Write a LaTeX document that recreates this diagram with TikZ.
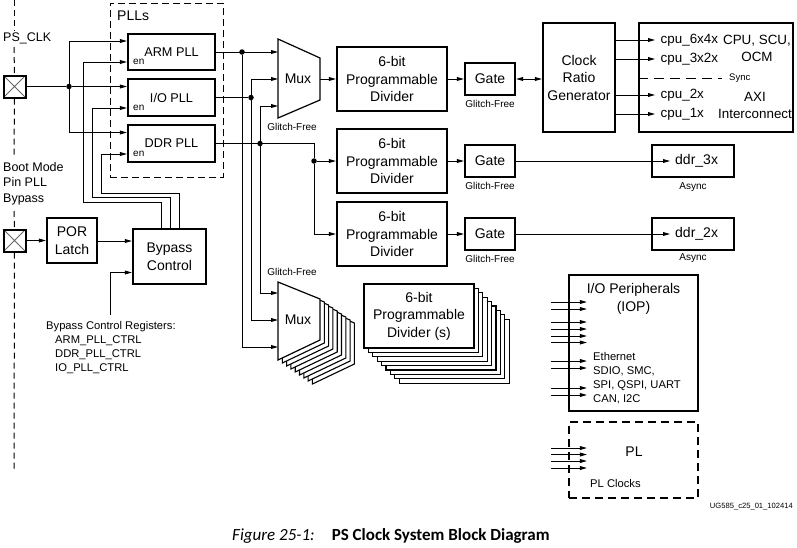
\documentclass[tikz,border=0pt]{standalone}
\usepackage{fontspec}
\setmainfont{Liberation Sans}
\newfontfamily\capfont{Carlito}
\usetikzlibrary{arrows.meta}
\newcommand\fsBig{\fontsize{14}{17.5}\selectfont}
\newcommand\fsPLL{\fontsize{12.7}{15}\selectfont}
\newcommand\fsMid{\fontsize{12.5}{15.5}\selectfont}
\newcommand\fsCpu{\fontsize{13.4}{16.5}\selectfont}
\newcommand\fsReg{\fontsize{11.2}{14}\selectfont}
\newcommand\fsEn{\fontsize{10}{12}\selectfont}
\newcommand\fsGF{\fontsize{10}{12}\selectfont}
\newcommand\fsSync{\fontsize{9.5}{11}\selectfont}
\newcommand\fsUG{\fontsize{7.6}{9}\selectfont}
\begin{document}
\begin{tikzpicture}[x=1pt,y=-1pt,
  box/.style={draw, line width=2.2pt, inner sep=0pt, align=center, font=\fsBig},
  txt/.style={inner sep=0pt, align=center},
  conn/.style={line width=0.9pt},
  arr/.style={conn, -{Triangle[length=7pt,width=3.8pt]}},
  arr2/.style={conn, {Triangle[length=7pt,width=3.8pt]}-{Triangle[length=7pt,width=3.8pt]}},
  dot/.style={circle, fill, inner sep=0pt, minimum size=5.5pt},
  pad/.style={draw, line width=2pt, minimum size=22pt, inner sep=0pt,
    path picture={\draw[line width=0.8pt, black!60]
      (path picture bounding box.north west) -- (path picture bounding box.south east)
      (path picture bounding box.north east) -- (path picture bounding box.south west);}},
  ldash/.style={line width=1pt, dash pattern=on 6pt off 4pt},
  gf/.style={txt, font=\fsGF},
  muxline/.style={line width=1.2pt, fill=white},
  stackline/.style={line width=1.1pt, fill=white}
]
\useasboundingbox (0,0) rectangle (797,547);

% ---------- left pads and texts
\node[pad] (pad1) at (14.5,86.5) {};
\node[pad] (pad2) at (14.5,240.5) {};
\node[txt, anchor=west, font=\fsMid] (psclk) at (3,38) {PS\_CLK};
\node[txt, anchor=west, align=left, font=\fsMid] (boot) at (3,183.5) {Boot Mode\\Pin PLL\\Bypass};
\draw[ldash] (14,0) -- (14,31);
\draw[ldash] (14,47) -- (pad1.north);
\draw[ldash] (pad1.south) -- (14,157);
\draw[ldash] (14,211) -- (pad2.north);
\draw[ldash] (pad2.south) -- (14,470);

% ---------- PLL group
\node[draw, line width=1pt, dash pattern=on 7pt off 4pt, minimum width=113pt, minimum height=174pt, inner sep=0pt] (pllgrp) at (166.5,90) {};
\node[txt, anchor=west, font=\fsBig] (plls) at (117,16) {PLLs};
\node[box, font=\fsPLL, minimum width=87pt, minimum height=36pt] (arm) at (171.5,52) {ARM PLL};
\node[box, font=\fsPLL, minimum width=87pt, minimum height=37pt] (iop) at (171.5,97.5) {I/O PLL};
\node[box, font=\fsPLL, minimum width=87pt, minimum height=37pt] (ddr) at (171.5,143.5) {DDR PLL};
\node[txt, anchor=west, font=\fsEn] (en1) at (133,62) {en};
\node[txt, anchor=west, font=\fsEn] (en2) at (133,108) {en};
\node[txt, anchor=west, font=\fsEn] (en3) at (133,154) {en};

% PS_CLK distribution
\node[dot] (d0) at (69,86.5) {};
\draw[conn] (pad1.east) -- (d0);
\draw[arr] (d0) -- (iop.west |- d0);
\draw[arr] (d0) |- (arm.west |- 0,41);
\draw[arr] (d0) |- (ddr.west |- 0,132.5);

% ---------- POR / Bypass
\node[box, minimum width=50pt, minimum height=45pt] (por) at (72,240.5) {POR\\Latch};
\node[box, minimum width=73pt, minimum height=55pt] (bp) at (169.5,256.5) {Bypass\\Control};
\draw[arr] (pad2.east) -- (por.west);
\draw[arr] (por.east |- 0,241) -- (bp.west |- 0,241);
\coordinate (regtop) at (110,315);
\draw[arr] (regtop) |- (bp.west |- 0,272.5);
\node[txt, anchor=west, align=left, font=\fsReg] (regs) at (46,348) {Bypass Control Registers:\\\hspace*{9pt}ARM\_PLL\_CTRL\\\hspace*{9pt}DDR\_PLL\_CTRL\\\hspace*{9pt}IO\_PLL\_CTRL};

% enable lines
\draw[arr] (bp.north -| 161,0) -- (161,202) -- (83,202) -- (83,62) -- (arm.west |- 0,62);
\draw[arr] (bp.north -| 170,0) -- (170,197.5) -- (92,197.5) -- (92,108) -- (iop.west |- 0,108);
\draw[arr] (bp.north -| 179,0) -- (179,193) -- (101,193) -- (101,154) -- (ddr.west |- 0,154);

% ---------- upper mux
\coordinate (m1a) at (278,39);
\coordinate (m1b) at (320,58);
\coordinate (m1c) at (320,100);
\coordinate (m1d) at (278,118);
\coordinate (m1o) at (320,79);
\draw[muxline] (m1a) -- (m1b) -- (m1c) -- (m1d) -- cycle;
\node[txt, font=\fsBig] (mux1) at (298,79) {Mux};
\node[gf] (gfm1) at (292,127) {Glitch-Free};

% ---------- lower mux stack
\foreach \k in {8,7,...,1} {
  \begin{scope}[shift={(\k*4.3,\k*3)}]
    \draw[stackline] (278,282) -- (320,299) -- (320,340) -- (278,360) -- cycle;
  \end{scope}
}
\coordinate (m2a) at (278,282);
\draw[muxline] (m2a) -- (320,299) -- (320,340) -- (278,360) -- cycle;
\node[txt, font=\fsBig] (mux2) at (298,320) {Mux};
\node[gf] (gfm2) at (292,272) {Glitch-Free};

% ---------- PLL outputs / buses
\node[dot] (dA) at (242,52) {};
\node[dot] (dI) at (251,97.5) {};
\node[dot] (dD) at (260,143.5) {};
\node[dot] (dS) at (314,161) {};
\draw[arr] (arm.east) -- (m1a |- arm.east);
\draw[conn] (iop.east) -- (dI);
\draw[conn] (ddr.east) -- (314,143.5) -- (dS);
\draw[arr] (dA) -- (242,347) -- (m2a |- 0,347);
\draw[arr2] (m1a |- 0,79) -- (251,79) -- (251,320) -- (m2a |- 0,320);
\draw[arr2] (m1a |- 0,106) -- (260,106) -- (260,293) -- (m2a |- 0,293);

% ---------- dividers and gates
\node[box, minimum width=110pt, minimum height=64pt] (div1) at (392,79) {6-bit\\Programmable\\Divider};
\node[box, minimum width=110pt, minimum height=64pt] (div2) at (392,161) {6-bit\\Programmable\\Divider};
\node[box, minimum width=110pt, minimum height=64pt] (div3) at (392,234) {6-bit\\Programmable\\Divider};
\node[box, minimum width=50pt, minimum height=32pt] (g1) at (490,79) {Gate};
\node[box, minimum width=50pt, minimum height=32pt] (g2) at (490,161) {Gate};
\node[box, minimum width=50pt, minimum height=32pt] (g3) at (490,234) {Gate};
\node[gf] (gf1) at (490,104) {Glitch-Free};
\node[gf] (gf2) at (490,186) {Glitch-Free};
\node[gf] (gf3) at (490,258.5) {Glitch-Free};
\draw[arr] (m1o) -- (div1.west);
\draw[arr] (dS) -- (div2.west);
\draw[arr] (dS) |- (div3.west);
\draw[arr] (div1.east) -- (g1.west);
\draw[arr] (div2.east) -- (g2.west);
\draw[arr] (div3.east) -- (g3.west);

% lower divider stack
\foreach \k in {8,7,...,1} {
  \begin{scope}[shift={(\k*4.4,\k*4.4)}]
    \draw[stackline] (364,284) rectangle (474,348);
  \end{scope}
}
\node[box, fill=white, minimum width=110pt, minimum height=64pt] (div4) at (419,316) {6-bit\\Programmable\\Divider (s)};

% ---------- clock ratio generator and CPU block
\node[box, minimum width=72pt, minimum height=109pt] (crg) at (579,77.5) {Clock\\Ratio\\Generator};
\node[box, minimum width=154pt, minimum height=109pt] (cpu) at (716,77.5) {};
\draw[arr2] (g1.east) -- (crg.west |- g1.east);
\node[txt, anchor=west, inner xsep=5.5pt, font=\fsCpu] (c1) at (655,40) {cpu\_6x4x};
\node[txt, anchor=west, inner xsep=5.5pt, font=\fsCpu] (c2) at (655,59) {cpu\_3x2x};
\node[txt, anchor=west, inner xsep=5.5pt, font=\fsCpu] (c3) at (655,95) {cpu\_2x};
\node[txt, anchor=west, inner xsep=5.5pt, font=\fsCpu] (c4) at (655,114) {cpu\_1x};
\draw[arr] (crg.east |- c1) -- (c1.west);
\draw[arr] (crg.east |- c2) -- (c2.west);
\draw[arr] (crg.east |- c3) -- (c3.west);
\draw[arr] (crg.east |- c4) -- (c4.west);
\node[txt, anchor=west, font=\fsSync] (sync) at (729,78) {Sync};
\draw[line width=0.9pt, dash pattern=on 10pt off 6pt] (cpu.west |- sync) -- (722,78);
\node[txt, font=\fsCpu, align=center] (cpuscu) at (757,48.5) {CPU, SCU,\\OCM};
\node[txt, font=\fsCpu, align=center] (axi) at (755,105.5) {AXI\\Interconnect};

% ---------- DDR clocks
\node[box, minimum width=82pt, minimum height=32pt] (ddr3) at (693,161) {};
\node[box, minimum width=82pt, minimum height=32pt] (ddr2) at (693,234) {};
\node[txt, anchor=west, inner xsep=5pt, font=\fsBig] (ddr3t) at (670,161) {ddr\_3x};
\node[txt, anchor=west, inner xsep=5pt, font=\fsBig] (ddr2t) at (670,234) {ddr\_2x};
\draw[arr] (g2.east) -- (ddr3t.west);
\draw[arr] (g3.east) -- (ddr2t.west);
\node[gf] (as1) at (693,187) {Async};
\node[gf] (as2) at (693,258.5) {Async};

% ---------- IOP
\node[box, minimum width=129pt, minimum height=136pt] (iopb) at (633.5,343) {};
\node[txt, font=\fsBig] (ioptxt) at (633.5,299) {I/O Peripherals\\(IOP)};
\node[txt, anchor=west, align=left, font=\fsReg, text depth=0pt] (iopl) at (593,377) {Ethernet\\SDIO, SMC,\\SPI, QSPI, UART\\CAN, I2C};
\foreach \y in {302,309,322,329,336,342.5,361,368,388,395} {
  \draw[arr] ([xshift=-17pt]iopb.west |- 0,\y) -- ([xshift=19pt]iopb.west |- 0,\y);
}

% ---------- PL
\node[draw, line width=2.2pt, dash pattern=on 8pt off 5pt, minimum width=129pt, minimum height=76pt, inner sep=0pt] (pl) at (633.5,460) {};
\node[txt, font=\fsBig] (pltxt) at (634,452) {PL};
\node[txt, anchor=west, font=\fsReg] (plclk) at (590,483) {PL Clocks};
\foreach \y in {448,454.5,461,468} {
  \draw[arr] ([xshift=-17pt]pl.west |- 0,\y) -- ([xshift=19pt]pl.west |- 0,\y);
}

% ---------- ids and caption
\node[txt, anchor=east, font=\fsUG] (ug) at (793,507) {UG585\_c25\_01\_102414};
\node[txt, anchor=west, font=\capfont\fontsize{17}{20}\selectfont] (cap) at (232,536) {\textit{Figure 25-1:}\hspace{17pt}\textbf{PS Clock System Block Diagram}};
\end{tikzpicture}
\end{document}
